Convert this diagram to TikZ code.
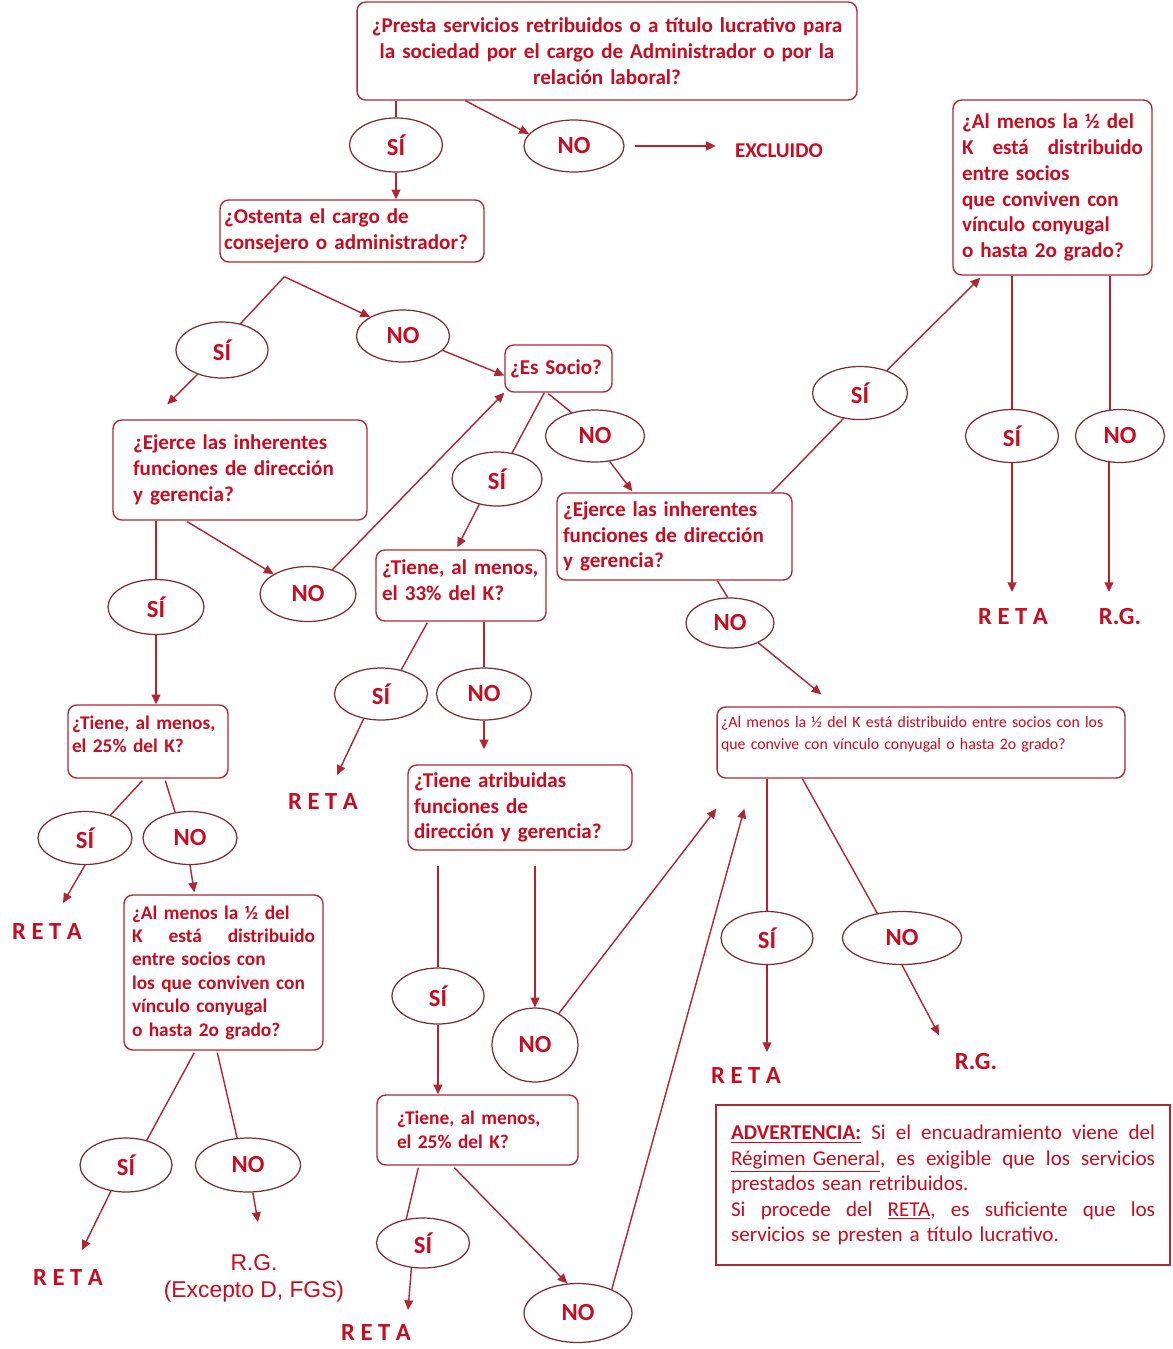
\documentclass[tikz,border=0pt]{standalone}
\usepackage{fontspec}
\setmainfont{Carlito}
\newfontfamily\arialf{Liberation Sans}
\usetikzlibrary{shapes.geometric,calc,arrows.meta}
\definecolor{txt}{RGB}{198,12,32}
\definecolor{lnc}{RGB}{175,38,50}
\definecolor{ellc}{RGB}{120,45,50}
\definecolor{boxc}{RGB}{165,45,55}
\newcommand\jline[2]{\leavevmode\hbox to #1{#2}}
\begin{document}
\begin{tikzpicture}[x=0.02cm,y=-0.02cm,
  ell/.style={ellipse,draw=ellc,line width=0.7pt,inner sep=0pt,text=txt,font=\bfseries\fontsize{14}{16}\selectfont},
  qb/.style={draw=boxc,line width=0.8pt,rounded corners=5pt,text=txt,font=\bfseries\fontsize{12}{14.7}\selectfont,align=left,inner ysep=0pt},
  ln/.style={draw=lnc,line width=0.8pt},
  arr/.style={ln,-{Triangle[length=5.5pt,width=5pt]}},
  term/.style={text=txt,font=\bfseries\fontsize{14}{16}\selectfont,inner sep=0pt}
]
\useasboundingbox (0,0) rectangle (1173,1349);
\fill[white] (0,0) rectangle (1173,1349);

% question boxes
\node[qb,align=center,text width=9.6cm,inner xsep=0.2cm,minimum height=1.96cm] (q1) at (607,51) {¿Presta servicios retribuidos o a título lucrativo para\\la sociedad por el cargo de Administrador o por la\\relación laboral?};
\node[qb,text width=5.12cm,inner xsep=0.08cm,minimum height=1.24cm] (q2) at (352,231) {¿Ostenta el cargo de\\consejero o administrador?};
\node[qb,text width=4.28cm,inner xsep=0.4cm,minimum height=2cm] (q3) at (240,470) {¿Ejerce las inherentes\\funciones de dirección\\y gerencia?};
\node[qb,text width=1.94cm,inner xsep=0.1cm,minimum height=0.94cm] (socio) at (558.5,368.5) {¿Es Socio?};
\node[qb,font=\bfseries\fontsize{11}{13.2}\selectfont,text width=3.04cm,inner xsep=0.08cm,minimum height=1.46cm] (q4) at (148,741.5) {¿Tiene, al menos,\\el 25\% del K?\\[-5pt]\mbox{}};
\node[qb,font=\bfseries\fontsize{11}{13.3}\selectfont,text width=3.66cm,inner xsep=0.16cm,minimum height=3.1cm] (q5) at (223.5,972.5) {¿Al menos la ½ del\\\jline{3.66cm}{K\hfill está\hfill distribuido}\\entre socios con\\los que conviven con\\vínculo conyugal\\o hasta 2o grado?};
\node[qb,text width=3.16cm,inner xsep=0.12cm,minimum height=1.42cm] (q6) at (461,585.5) {¿Tiene, al menos,\\el 33\% del K?\\[-8.5pt]\mbox{}};
\node[qb,text width=4.46cm,inner xsep=0.12cm,minimum height=1.74cm] (q7) at (674.5,536.5) {¿Ejerce las inherentes\\funciones de dirección\\y gerencia?};
\node[qb,text width=4.24cm,inner xsep=0.12cm,minimum height=1.7cm] (q8) at (520,807.5) {¿Tiene atribuidas\\funciones de\\dirección y gerencia?};
\node[qb,font=\bfseries\fontsize{11}{13.6}\selectfont,text width=3.22cm,inner xsep=0.4cm,minimum height=1.4cm] (q9) at (477.5,1130) {¿Tiene, al menos,\\el 25\% del K?};
\node[qb,font=\fontsize{9}{12.5}\selectfont,text width=8cm,inner xsep=0.08cm,minimum height=1.42cm] (q10) at (921,742.5) {¿Al menos la ½ del K está distribuido entre socios con los\\que convive con vínculo conyugal o hasta 2o grado?\\[-1.7pt]\mbox{}};
\node[qb,text width=3.62cm,inner xsep=0.18cm,minimum height=3.5cm] (q11) at (1052.5,187.5) {¿Al menos la ½ del\\\jline{3.62cm}{K\hfill está\hfill distribuido}\\entre socios\\que conviven con\\vínculo conyugal\\o hasta 2o grado?};
\node[draw=boxc,line width=1pt,text=txt,font=\fontsize{12}{14.5}\selectfont,text width=8.48cm,inner xsep=0.3cm,minimum height=3.2cm,align=left] (adv) at (943,1185) {\jline{8.48cm}{\textbf{\underline{ADVERTENCIA:}}\hfill Si\hfill el\hfill encuadramiento\hfill viene\hfill del}\\\jline{8.48cm}{\underline{Régimen\ General},\hfill es\hfill exigible\hfill que\hfill los\hfill servicios}\\prestados sean retribuidos.\\\jline{8.48cm}{Si\hfill procede\hfill del\hfill \underline{RETA},\hfill es\hfill suficiente\hfill que\hfill los}\\servicios se presten a título lucrativo.};

% ellipses
\node[ell,minimum width=1.86cm,minimum height=1.08cm] (s1) at (396,145) {SÍ};
\node[ell,minimum width=2.0cm,minimum height=1.04cm] (n1) at (574,146) {NO};
\node[ell,minimum width=1.84cm,minimum height=1.12cm] (s2) at (222,350) {SÍ};
\node[ell,minimum width=1.86cm,minimum height=1.04cm] (n2) at (403,336) {NO};
\node[ell,minimum width=1.92cm,minimum height=1.1cm] (s3) at (156,607) {SÍ};
\node[ell,minimum width=1.92cm,minimum height=1.1cm] (n3) at (308,594) {NO};
\node[ell,minimum width=1.88cm,minimum height=1.06cm] (s4) at (85,838) {SÍ};
\node[ell,minimum width=1.88cm,minimum height=1.06cm] (n4) at (190,838) {NO};
\node[ell,minimum width=1.84cm,minimum height=1.08cm] (s5) at (126,1165) {SÍ};
\node[ell,minimum width=2.1cm,minimum height=1.08cm] (n5) at (248,1165) {NO};
\node[ell,minimum width=1.8cm,minimum height=1.08cm] (s6) at (497,479) {SÍ};
\node[ell,minimum width=1.98cm,minimum height=1.04cm] (n6) at (595,436) {NO};
\node[ell,minimum width=1.86cm,minimum height=1.04cm] (s7) at (381,694) {SÍ};
\node[ell,minimum width=1.9cm,minimum height=1.04cm] (n7) at (484,694) {NO};
\node[ell,minimum width=1.84cm,minimum height=1.12cm] (s8) at (438,996) {SÍ};
\node[ell,minimum width=1.72cm,minimum height=1.48cm] (n8) at (535,1045) {NO};
\node[ell,minimum width=1.86cm,minimum height=1.0cm] (s9) at (423,1243) {SÍ};
\node[ell,minimum width=2.16cm,minimum height=1.18cm] (n9) at (578,1313) {NO};
\node[ell,minimum width=1.9cm,minimum height=1.06cm] (s10) at (860,393) {SÍ};
\node[ell,minimum width=1.76cm,minimum height=1.0cm] (n10) at (730,623) {NO};
\node[ell,minimum width=1.86cm,minimum height=1.06cm] (s11) at (1012,436) {SÍ};
\node[ell,minimum width=1.78cm,minimum height=1.06cm] (n11) at (1120,436) {NO};
\node[ell,minimum width=1.84cm,minimum height=1.06cm] (s12) at (767,938) {SÍ};
\node[ell,minimum width=2.38cm,minimum height=1.06cm] (n12) at (902,938) {NO};

% terminals
\node[term,font=\bfseries\fontsize{12}{14}\selectfont] (excl) at (779,151) {EXCLUIDO};
\node[term] (reta1) at (1013,617) {R E T A};
\node[term] (rg1) at (1120,617) {R.G.};
\node[term] (reta2) at (47,932) {R E T A};
\node[term] (reta3) at (68,1278) {R E T A};
\node[term,font=\arialf\fontsize{13}{15.3}\selectfont,align=center] (rg2) at (254,1278) {R.G.\\(Excepto D, FGS)};
\node[term] (reta4) at (323,802) {R E T A};
\node[term] (reta5) at (376,1333) {R E T A};
\node[term] (reta6) at (746,1076) {R E T A};
\node[term] (rg3) at (976,1062) {R.G.};

% connectors
\draw[ln] (s1.north |- q1.south) -- (s1.north);
\draw[arr] (s1.south) -- (s1.south |- q2.north);
\draw[arr] ($(q1.south west)+(109,0)$) -- (n1.165);
\draw[arr,shorten <=0.2cm,shorten >=0.38cm] (n1.east) -- (n1.east -| excl.west);
\draw[ln] ($(q2.south west)+(65,14)$) -- (s2.55);
\draw[arr] ($(q2.south west)+(65,14)$) -- (n2.150);
\draw[arr] (s2.225) -- ($(q3.north west)+(55,-15)$);
\draw[arr] (n2.-20) -- ($(socio.west)+(0,7)$);
\draw[ln] (s3.north |- q3.south) -- (s3.north);
\draw[arr] ($(q3.south west)+(75,1)$) -- (n3.150);
\draw[arr] (n3.45) -- (socio.south west);
\draw[arr] (s3.south) -- (s3.south |- q4.north);
\draw[ln] ($(q4.south west)+(75,2)$) -- (s4.42);
\draw[ln] ($(q4.south west)+(98,2)$) -- (n4.120);
\draw[arr] (s4.south) -- ($(reta2.center)+(16,-29)$);
\draw[arr] (n4.south) -- ($(q5.north west)+(71,-2)$);
\draw[ln] ($(q5.south west)+(71,2)$) -- (s5.50);
\draw[ln] ($(q5.south west)+(94,2)$) -- (n5.112);
\draw[arr] (s5.240) -- ($(reta3.center)+(14,-28)$);
\draw[arr] (n5.-80) -- ($(rg2.center)+(4,-56)$);
\draw[ln] ($(socio.south west)+(40,0)$) -- (s6.60);
\draw[ln] ($(socio.south west)+(44,1)$) -- (n6.135);
\draw[arr] (s6.235) -- ($(q6.north west)+(82,-2)$);
\draw[arr] (n6.-60) -- ($(q7.north west)+(76,-1)$);
\draw[ln] ($(q6.south west)+(52,1)$) -- (s7.50);
\draw[ln] (n7.north |- q6.south) -- (n7.north);
\draw[arr] (s7.235) -- ($(reta4.center)+(14,-27)$);
\draw[arr] (n7.south) -- ($(n7.south |- q8.north)+(0,-15)$);
\draw[ln] ($(s8.north |- q8.south)+(0,15)$) -- (s8.north);
\draw[arr] ($(n8.north |- q8.south)+(0,15)$) -- (n8.north);
\draw[arr] (n8.53) -- ($(q10.south west)+(0,30)$);
\draw[arr] (s8.south) -- (s8.south |- q9.north);
\draw[ln] ($(q9.south west)+(42,2)$) -- (s9.125);
\draw[arr] ($(q9.south west)+(78,2)$) -- (n9.110);
\draw[arr] (s9.245) -- ($(reta5.center)+(32,-23)$);
\draw[arr] (n9.35) -- ($(q10.south west)+(28,30)$);
\draw[ln] ($(q7.south west)+(161,0)$) -- (n10.95);
\draw[ln] ($(q7.north east)+(-21,0)$) -- (s10.237);
\draw[arr] (s10.40) -- ($(q11.south west)+(28,2)$);
\draw[arr] (n10.-35) -- ($(q10.north west)+(105,-12)$);
\draw[ln] (s11.north |- q11.south) -- (s11.north);
\draw[arr] (s11.south) -- ($(s11.south |- reta1.center)+(0,-25)$);
\draw[ln] ($(n11.north |- q11.south)+(-10,0)$) -- ($(n11.north)+(-10,1)$);
\draw[arr] ($(n11.south)+(-11,-1)$) -- ($(n11.south |- rg1.center)+(-11,-25)$);
\draw[ln] ($(s12.north |- q10.south)$) -- (s12.north);
\draw[arr] (s12.south) -- ($(s12.south |- reta6.center)+(0,-24)$);
\draw[ln] ($(q10.south west)+(86,0)$) -- (n12.135);
\draw[arr] (n12.south) -- ($(rg3.center)+(-37,-27)$);
\end{tikzpicture}
\end{document}
